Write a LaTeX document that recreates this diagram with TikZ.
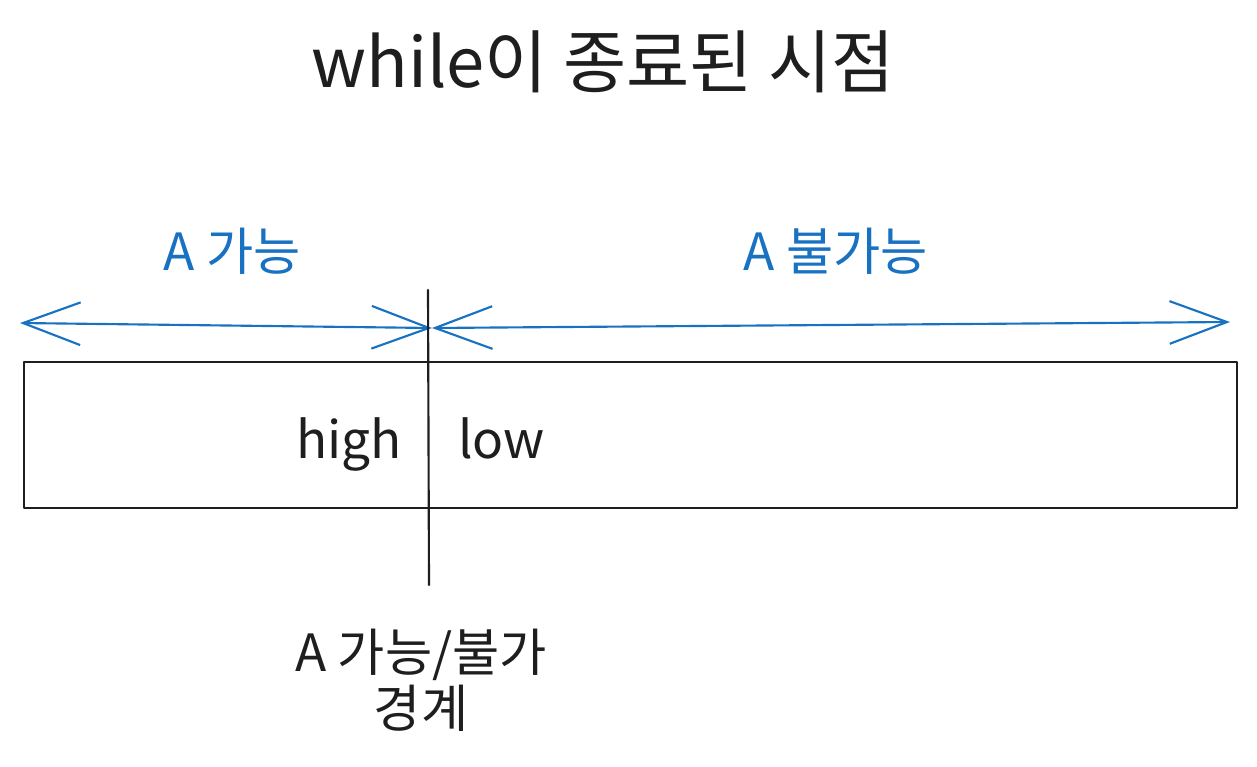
\documentclass[tikz,border=0pt]{standalone}
\usepackage{fontspec}
\setmainfont{Noto Sans CJK KR}
\usepackage{tikz}
\usetikzlibrary{arrows.meta, positioning}
\definecolor{inkblack}{HTML}{1E1E1E}
\definecolor{inkblue}{HTML}{1971C2}

\begin{document}
\begin{tikzpicture}[x=0.75pt, y=-0.75pt,
        line width=1.6pt, line cap=round, line join=round,
        label/.style={inner sep=0pt, anchor=base, text=inkblack, font=\fontsize{38.5}{46}\selectfont},
        bluelabel/.style={label, text=inkblue},
        span/.style={inkblue, {Straight Barb[length=43pt, width=32pt]}-{Straight Barb[length=43pt, width=32pt]}}]
        \useasboundingbox (0,0) rectangle (1257,767);

        \node[label, font=\fontsize{51.5}{60}\selectfont] (title) at (603,88) {while이 종료된 시점};

        \node[bluelabel] (canLbl) at (232,270) {A 가능};
        \node[bluelabel] (cannotLbl) at (836,270) {A 불가능};

        \coordinate (aL) at (20,323);
        \coordinate (aM) at (432,328);
        \coordinate (aR) at (1230,322);
        \draw[span] (aM) -- (aL);
        \draw[span] (aM) -- (aR);

        \draw[inkblack] (24,362) rectangle (1237,508);
        \coordinate (divTop) at (428,290);
        \coordinate (divBot) at (429,585);
        \draw[inkblack] (divTop) -- (divBot);

        \node[label, anchor=base east] (high) at (403,458) {high};
        \node[label, anchor=base west] (low) at (457,458) {low};

        \node[label] (bound) at (421,671) {A 가능/불가};
        \node[label] (boundTwo) at (421,727) {경계};
    \end{tikzpicture}
\end{document}
